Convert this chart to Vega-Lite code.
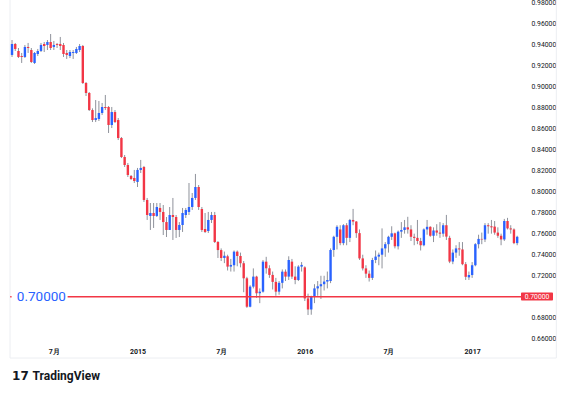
{
"$schema": "https://vega.github.io/schema/vega-lite/v6.json",
"width": 522, "height": 340,
"autosize": {"type": "none"},
"padding": {"left": 5, "top": 0, "right": 40, "bottom": 53},
"background": "#ffffff",
"config": {"view": {"stroke": null}, "font": "Roboto", "axis": {"labelOverlap": false, "labelFlush": false, "labelBound": false}},
"datasets": {
"candles": [
{"d":"2014-04-07","o":0.9297,"h":0.9439,"l":0.9278,"c":0.9401},
{"d":"2014-04-14","o":0.9401,"h":0.9411,"l":0.9335,"c":0.9354},
{"d":"2014-04-21","o":0.9335,"h":0.9363,"l":0.9268,"c":0.9278},
{"d":"2014-04-28","o":0.9287,"h":0.9316,"l":0.9221,"c":0.9278},
{"d":"2014-05-05","o":0.9278,"h":0.9392,"l":0.9268,"c":0.9373},
{"d":"2014-05-12","o":0.9373,"h":0.9411,"l":0.9316,"c":0.9363},
{"d":"2014-05-19","o":0.9344,"h":0.9363,"l":0.9221,"c":0.9230},
{"d":"2014-05-26","o":0.9221,"h":0.9325,"l":0.9211,"c":0.9316},
{"d":"2014-06-02","o":0.9306,"h":0.9354,"l":0.9287,"c":0.9335},
{"d":"2014-06-09","o":0.9335,"h":0.9411,"l":0.9325,"c":0.9392},
{"d":"2014-06-16","o":0.9401,"h":0.9420,"l":0.9325,"c":0.9382},
{"d":"2014-06-23","o":0.9392,"h":0.9439,"l":0.9344,"c":0.9420},
{"d":"2014-06-30","o":0.9420,"h":0.9496,"l":0.9344,"c":0.9363},
{"d":"2014-07-07","o":0.9373,"h":0.9430,"l":0.9344,"c":0.9392},
{"d":"2014-07-14","o":0.9401,"h":0.9411,"l":0.9363,"c":0.9392},
{"d":"2014-07-21","o":0.9401,"h":0.9468,"l":0.9344,"c":0.9382},
{"d":"2014-07-28","o":0.9392,"h":0.9411,"l":0.9278,"c":0.9306},
{"d":"2014-08-04","o":0.9316,"h":0.9344,"l":0.9259,"c":0.9297},
{"d":"2014-08-11","o":0.9287,"h":0.9344,"l":0.9268,"c":0.9325},
{"d":"2014-08-18","o":0.9316,"h":0.9344,"l":0.9259,"c":0.9325},
{"d":"2014-08-25","o":0.9316,"h":0.9373,"l":0.9306,"c":0.9354},
{"d":"2014-09-01","o":0.9344,"h":0.9401,"l":0.9325,"c":0.9382},
{"d":"2014-09-08","o":0.9382,"h":0.9392,"l":0.9021,"c":0.9031},
{"d":"2014-09-15","o":0.9031,"h":0.9040,"l":0.8907,"c":0.8936},
{"d":"2014-09-22","o":0.8936,"h":0.8945,"l":0.8765,"c":0.8774},
{"d":"2014-09-29","o":0.8774,"h":0.8790,"l":0.8660,"c":0.8679},
{"d":"2014-10-06","o":0.8679,"h":0.8869,"l":0.8660,"c":0.8698},
{"d":"2014-10-13","o":0.8689,"h":0.8860,"l":0.8670,"c":0.8746},
{"d":"2014-10-20","o":0.8746,"h":0.8841,"l":0.8727,"c":0.8803},
{"d":"2014-10-27","o":0.8803,"h":0.8917,"l":0.8774,"c":0.8793},
{"d":"2014-11-03","o":0.8803,"h":0.8812,"l":0.8556,"c":0.8632},
{"d":"2014-11-10","o":0.8632,"h":0.8803,"l":0.8603,"c":0.8755},
{"d":"2014-11-17","o":0.8755,"h":0.8774,"l":0.8651,"c":0.8660},
{"d":"2014-11-24","o":0.8679,"h":0.8698,"l":0.8489,"c":0.8508},
{"d":"2014-12-01","o":0.8508,"h":0.8518,"l":0.8318,"c":0.8328},
{"d":"2014-12-08","o":0.8328,"h":0.8347,"l":0.8233,"c":0.8252},
{"d":"2014-12-15","o":0.8252,"h":0.8271,"l":0.8138,"c":0.8157},
{"d":"2014-12-22","o":0.8148,"h":0.8157,"l":0.8110,"c":0.8119},
{"d":"2014-12-29","o":0.8129,"h":0.8205,"l":0.8081,"c":0.8100},
{"d":"2015-01-05","o":0.8091,"h":0.8224,"l":0.8043,"c":0.8205},
{"d":"2015-01-12","o":0.8205,"h":0.8300,"l":0.8176,"c":0.8224},
{"d":"2015-01-19","o":0.8233,"h":0.8243,"l":0.7901,"c":0.7920},
{"d":"2015-01-26","o":0.7920,"h":0.7939,"l":0.7730,"c":0.7777},
{"d":"2015-02-02","o":0.7768,"h":0.7891,"l":0.7635,"c":0.7796},
{"d":"2015-02-09","o":0.7796,"h":0.7891,"l":0.7654,"c":0.7768},
{"d":"2015-02-16","o":0.7768,"h":0.7891,"l":0.7758,"c":0.7853},
{"d":"2015-02-23","o":0.7844,"h":0.7891,"l":0.7730,"c":0.7806},
{"d":"2015-03-02","o":0.7806,"h":0.7872,"l":0.7587,"c":0.7710},
{"d":"2015-03-09","o":0.7710,"h":0.7758,"l":0.7568,"c":0.7635},
{"d":"2015-03-16","o":0.7635,"h":0.7853,"l":0.7635,"c":0.7777},
{"d":"2015-03-23","o":0.7777,"h":0.7939,"l":0.7540,"c":0.7758},
{"d":"2015-03-30","o":0.7758,"h":0.7777,"l":0.7559,"c":0.7635},
{"d":"2015-04-06","o":0.7635,"h":0.7710,"l":0.7568,"c":0.7682},
{"d":"2015-04-13","o":0.7682,"h":0.7844,"l":0.7616,"c":0.7796},
{"d":"2015-04-20","o":0.7777,"h":0.7844,"l":0.7749,"c":0.7825},
{"d":"2015-04-27","o":0.7806,"h":0.8081,"l":0.7777,"c":0.7853},
{"d":"2015-05-04","o":0.7853,"h":0.7986,"l":0.7825,"c":0.7939},
{"d":"2015-05-11","o":0.7939,"h":0.8167,"l":0.7920,"c":0.8043},
{"d":"2015-05-18","o":0.8043,"h":0.8062,"l":0.7825,"c":0.7853},
{"d":"2015-05-25","o":0.7834,"h":0.7853,"l":0.7616,"c":0.7635},
{"d":"2015-06-01","o":0.7644,"h":0.7796,"l":0.7606,"c":0.7616},
{"d":"2015-06-08","o":0.7625,"h":0.7806,"l":0.7606,"c":0.7730},
{"d":"2015-06-15","o":0.7730,"h":0.7806,"l":0.7701,"c":0.7777},
{"d":"2015-06-22","o":0.7777,"h":0.7806,"l":0.7511,"c":0.7521},
{"d":"2015-06-29","o":0.7521,"h":0.7530,"l":0.7369,"c":0.7444},
{"d":"2015-07-06","o":0.7444,"h":0.7460,"l":0.7340,"c":0.7369},
{"d":"2015-07-13","o":0.7369,"h":0.7430,"l":0.7320,"c":0.7390},
{"d":"2015-07-20","o":0.7385,"h":0.7400,"l":0.7250,"c":0.7287},
{"d":"2015-07-27","o":0.7287,"h":0.7360,"l":0.7240,"c":0.7303},
{"d":"2015-08-03","o":0.7300,"h":0.7440,"l":0.7240,"c":0.7429},
{"d":"2015-08-10","o":0.7429,"h":0.7440,"l":0.7290,"c":0.7388},
{"d":"2015-08-17","o":0.7388,"h":0.7420,"l":0.7280,"c":0.7319},
{"d":"2015-08-24","o":0.7319,"h":0.7340,"l":0.7044,"c":0.7176},
{"d":"2015-08-31","o":0.7176,"h":0.7190,"l":0.6895,"c":0.6906},
{"d":"2015-09-07","o":0.6906,"h":0.7110,"l":0.6900,"c":0.7097},
{"d":"2015-09-14","o":0.7097,"h":0.7270,"l":0.7080,"c":0.7192},
{"d":"2015-09-21","o":0.7192,"h":0.7200,"l":0.6990,"c":0.7034},
{"d":"2015-09-28","o":0.7034,"h":0.7080,"l":0.6940,"c":0.7049},
{"d":"2015-10-05","o":0.7049,"h":0.7350,"l":0.7040,"c":0.7334},
{"d":"2015-10-12","o":0.7334,"h":0.7380,"l":0.7220,"c":0.7271},
{"d":"2015-10-19","o":0.7271,"h":0.7300,"l":0.7180,"c":0.7208},
{"d":"2015-10-26","o":0.7208,"h":0.7240,"l":0.7070,"c":0.7142},
{"d":"2015-11-02","o":0.7142,"h":0.7180,"l":0.7010,"c":0.7049},
{"d":"2015-11-09","o":0.7049,"h":0.7150,"l":0.7020,"c":0.7133},
{"d":"2015-11-16","o":0.7133,"h":0.7260,"l":0.7080,"c":0.7239},
{"d":"2015-11-23","o":0.7239,"h":0.7260,"l":0.7150,"c":0.7192},
{"d":"2015-11-30","o":0.7192,"h":0.7385,"l":0.7160,"c":0.7350},
{"d":"2015-12-07","o":0.7334,"h":0.7360,"l":0.7170,"c":0.7192},
{"d":"2015-12-14","o":0.7192,"h":0.7290,"l":0.7120,"c":0.7160},
{"d":"2015-12-21","o":0.7160,"h":0.7300,"l":0.7150,"c":0.7287},
{"d":"2015-12-28","o":0.7287,"h":0.7330,"l":0.7240,"c":0.7303},
{"d":"2016-01-04","o":0.7280,"h":0.7290,"l":0.6960,"c":0.6985},
{"d":"2016-01-11","o":0.6985,"h":0.7030,"l":0.6827,"c":0.6880},
{"d":"2016-01-18","o":0.6880,"h":0.7010,"l":0.6830,"c":0.7000},
{"d":"2016-01-25","o":0.7000,"h":0.7120,"l":0.6940,"c":0.7080},
{"d":"2016-02-01","o":0.7080,"h":0.7150,"l":0.7010,"c":0.7100},
{"d":"2016-02-08","o":0.7100,"h":0.7200,"l":0.6980,"c":0.7120},
{"d":"2016-02-15","o":0.7120,"h":0.7200,"l":0.7060,"c":0.7145},
{"d":"2016-02-22","o":0.7145,"h":0.7240,"l":0.7080,"c":0.7160},
{"d":"2016-02-29","o":0.7150,"h":0.7460,"l":0.7130,"c":0.7445},
{"d":"2016-03-07","o":0.7445,"h":0.7580,"l":0.7380,"c":0.7570},
{"d":"2016-03-14","o":0.7570,"h":0.7680,"l":0.7450,"c":0.7665},
{"d":"2016-03-21","o":0.7640,"h":0.7680,"l":0.7490,"c":0.7510},
{"d":"2016-03-28","o":0.7510,"h":0.7690,"l":0.7490,"c":0.7680},
{"d":"2016-04-04","o":0.7680,"h":0.7700,"l":0.7490,"c":0.7560},
{"d":"2016-04-11","o":0.7560,"h":0.7740,"l":0.7520,"c":0.7730},
{"d":"2016-04-18","o":0.7730,"h":0.7835,"l":0.7680,"c":0.7715},
{"d":"2016-04-25","o":0.7715,"h":0.7720,"l":0.7560,"c":0.7605},
{"d":"2016-05-02","o":0.7605,"h":0.7640,"l":0.7350,"c":0.7365},
{"d":"2016-05-09","o":0.7365,"h":0.7400,"l":0.7250,"c":0.7270},
{"d":"2016-05-16","o":0.7270,"h":0.7300,"l":0.7180,"c":0.7220},
{"d":"2016-05-23","o":0.7220,"h":0.7250,"l":0.7145,"c":0.7180},
{"d":"2016-05-30","o":0.7180,"h":0.7370,"l":0.7160,"c":0.7350},
{"d":"2016-06-06","o":0.7350,"h":0.7440,"l":0.7320,"c":0.7382},
{"d":"2016-06-13","o":0.7382,"h":0.7420,"l":0.7300,"c":0.7400},
{"d":"2016-06-20","o":0.7400,"h":0.7650,"l":0.7270,"c":0.7460},
{"d":"2016-06-27","o":0.7460,"h":0.7520,"l":0.7380,"c":0.7500},
{"d":"2016-07-04","o":0.7500,"h":0.7580,"l":0.7420,"c":0.7570},
{"d":"2016-07-11","o":0.7570,"h":0.7670,"l":0.7540,"c":0.7603},
{"d":"2016-07-18","o":0.7603,"h":0.7610,"l":0.7460,"c":0.7480},
{"d":"2016-07-25","o":0.7480,"h":0.7630,"l":0.7450,"c":0.7619},
{"d":"2016-08-01","o":0.7619,"h":0.7710,"l":0.7560,"c":0.7635},
{"d":"2016-08-08","o":0.7635,"h":0.7730,"l":0.7600,"c":0.7660},
{"d":"2016-08-15","o":0.7660,"h":0.7760,"l":0.7600,"c":0.7640},
{"d":"2016-08-22","o":0.7640,"h":0.7680,"l":0.7530,"c":0.7570},
{"d":"2016-08-29","o":0.7570,"h":0.7600,"l":0.7490,"c":0.7560},
{"d":"2016-09-05","o":0.7560,"h":0.7730,"l":0.7500,"c":0.7530},
{"d":"2016-09-12","o":0.7530,"h":0.7560,"l":0.7440,"c":0.7490},
{"d":"2016-09-19","o":0.7490,"h":0.7650,"l":0.7480,"c":0.7640},
{"d":"2016-09-26","o":0.7640,"h":0.7730,"l":0.7590,"c":0.7665},
{"d":"2016-10-03","o":0.7665,"h":0.7670,"l":0.7570,"c":0.7580},
{"d":"2016-10-10","o":0.7580,"h":0.7660,"l":0.7520,"c":0.7630},
{"d":"2016-10-17","o":0.7630,"h":0.7690,"l":0.7580,"c":0.7610},
{"d":"2016-10-24","o":0.7610,"h":0.7710,"l":0.7560,"c":0.7600},
{"d":"2016-10-31","o":0.7600,"h":0.7700,"l":0.7570,"c":0.7680},
{"d":"2016-11-07","o":0.7680,"h":0.7778,"l":0.7540,"c":0.7572},
{"d":"2016-11-14","o":0.7560,"h":0.7580,"l":0.7320,"c":0.7335},
{"d":"2016-11-21","o":0.7335,"h":0.7450,"l":0.7310,"c":0.7420},
{"d":"2016-11-28","o":0.7420,"h":0.7490,"l":0.7370,"c":0.7460},
{"d":"2016-12-05","o":0.7460,"h":0.7520,"l":0.7390,"c":0.7450},
{"d":"2016-12-12","o":0.7450,"h":0.7520,"l":0.7300,"c":0.7310},
{"d":"2016-12-19","o":0.7310,"h":0.7330,"l":0.7160,"c":0.7190},
{"d":"2016-12-26","o":0.7185,"h":0.7240,"l":0.7160,"c":0.7207},
{"d":"2017-01-02","o":0.7207,"h":0.7330,"l":0.7180,"c":0.7300},
{"d":"2017-01-09","o":0.7300,"h":0.7510,"l":0.7290,"c":0.7500},
{"d":"2017-01-16","o":0.7500,"h":0.7590,"l":0.7460,"c":0.7550},
{"d":"2017-01-23","o":0.7550,"h":0.7610,"l":0.7500,"c":0.7545},
{"d":"2017-01-30","o":0.7545,"h":0.7700,"l":0.7520,"c":0.7680},
{"d":"2017-02-06","o":0.7680,"h":0.7700,"l":0.7600,"c":0.7670},
{"d":"2017-02-13","o":0.7670,"h":0.7730,"l":0.7600,"c":0.7660},
{"d":"2017-02-20","o":0.7667,"h":0.7720,"l":0.7590,"c":0.7610},
{"d":"2017-02-27","o":0.7610,"h":0.7660,"l":0.7560,"c":0.7580},
{"d":"2017-03-06","o":0.7580,"h":0.7600,"l":0.7490,"c":0.7545},
{"d":"2017-03-13","o":0.7545,"h":0.7740,"l":0.7530,"c":0.7720},
{"d":"2017-03-20","o":0.7720,"h":0.7750,"l":0.7640,"c":0.7650},
{"d":"2017-03-27","o":0.7650,"h":0.7680,"l":0.7600,"c":0.7640},
{"d":"2017-04-03","o":0.7640,"h":0.7650,"l":0.7500,"c":0.7510},
{"d":"2017-04-10","o":0.7510,"h":0.7580,"l":0.7490,"c":0.7570}
],
"level": [
{"d":"2014-04-03T00:00:00Z","d2":"2014-04-06T00:00:00Z","p":0.70},
{"d":"2014-08-06T00:00:00Z","d2":"2017-04-20T12:00:00Z","p":0.70}
],
"frame": [
{"d":"2014-04-02T14:00:00Z","d2":"2014-04-02T14:00:00Z","p":0.9819,"p2":0.6419},
{"d":"2014-04-02T14:00:00Z","d2":"2017-07-04T04:00:00Z","p":0.6419,"p2":0.6419},
{"d":"2017-07-04T04:00:00Z","d2":"2017-07-04T04:00:00Z","p":0.9819,"p2":0.6419}
]
},
"encoding": {
"x": {"type": "temporal",
"scale": {"type": "utc", "domain": [{"year":2014,"month":4,"date":2,"hours":14,"utc":true},{"year":2017,"month":4,"date":20,"hours":12,"utc":true}]},
"axis": {"title": null, "grid": false, "domain": false, "ticks": false, "labelPadding": 7,
"values": [{"year":2014,"month":7,"date":7,"utc":true},{"year":2015,"month":1,"date":5,"utc":true},{"year":2015,"month":7,"date":6,"utc":true},{"year":2016,"month":1,"date":4,"utc":true},{"year":2016,"month":7,"date":4,"utc":true},{"year":2017,"month":1,"date":2,"utc":true}],
"labelExpr": "utcmonth(datum.value) == 0 ? utcFormat(datum.value, '%Y') : (utcmonth(datum.value) + 1) + '月'",
"labelFontSize": 7, "labelFontWeight": "bold", "labelColor": "#131722", "labelOverlap": false, "labelFlush": false}},
"y": {"type": "quantitative",
"scale": {"domain": [0.659, 0.9819], "nice": false, "zero": false},
"axis": {"orient": "right", "title": null, "grid": false, "domain": false, "ticks": false, "labelPadding": 4,
"values": [0.66,0.68,0.72,0.74,0.76,0.78,0.8,0.82,0.84,0.86,0.88,0.9,0.92,0.94,0.96,0.98],
"format": ".5f", "labelFontSize": 6.8, "labelColor": "#131722", "labelBaseline": "middle", "labelOverlap": false, "labelFlush": false, "labelBound": false}}
},
"layer": [
{
"data": {"name": "frame"},
"mark": {"type": "rule", "color": "#eceef2", "strokeWidth": 1},
"encoding": {"x": {"field": "d"}, "x2": {"field": "d2"}, "y": {"field": "p"}, "y2": {"field": "p2"}}
},
{
"data": {"name": "candles"},
"mark": {"type": "rule", "color": "#8f929b", "strokeWidth": 1},
"encoding": {"x": {"field": "d"}, "y": {"field": "l"}, "y2": {"field": "h"}}
},
{
"data": {"name": "candles"},
"mark": {"type": "bar", "width": 2.4},
"encoding": {
"x": {"field": "d"}, "y": {"field": "o"}, "y2": {"field": "c"},
"color": {"condition": {"test": "datum.c >= datum.o", "value": "#2962FF"}, "value": "#F23645"}
}
},
{
"data": {"name": "level"},
"mark": {"type": "rule", "color": "#F23645", "strokeWidth": 1.5},
"encoding": {"x": {"field": "d"}, "x2": {"field": "d2"}, "y": {"field": "p"}}
},
{
"data": {"values": [{"d":"2014-04-17T12:00:00Z","p":0.70,"t":"0.70000"}]},
"mark": {"type": "text", "color": "#2962FF", "fontSize": 13.5, "align": "left", "baseline": "middle"},
"encoding": {"x": {"field": "d"}, "y": {"field": "p"}, "text": {"field": "t"}}
},
{
"data": {"values": [{"d":"2017-04-20T12:00:00Z","p":0.70}]},
"mark": {"type": "rect", "color": "#F23645", "xOffset": -1, "x2Offset": 31, "yOffset": -4.3, "y2Offset": 3.7, "cornerRadius": 1},
"encoding": {"x": {"field": "d"}, "x2": {"field": "d"}, "y": {"field": "p"}, "y2": {"field": "p"}}
},
{
"data": {"values": [{"d":"2017-04-20T12:00:00Z","p":0.70,"t":"0.70000"}]},
"mark": {"type": "text", "color": "#ffffff", "fontSize": 6.8, "align": "center", "baseline": "middle", "dx": 15},
"encoding": {"x": {"field": "d"}, "y": {"field": "p"}, "text": {"field": "t"}}
},
{
"data": {"values": [{"d":"2014-04-07T00:00:00Z","p":0.6210,"t":"17"}]},
"mark": {"type": "text", "color": "#131722", "font": "DejaVu Sans", "fontWeight": "bold", "fontSize": 12, "align": "left", "baseline": "alphabetic"},
"encoding": {"x": {"field": "d"}, "y": {"field": "p"}, "text": {"field": "t"}}
},
{
"data": {"values": [{"d":"2014-05-21T12:00:00Z","p":0.6210,"t":"TradingView"}]},
"mark": {"type": "text", "color": "#131722", "fontWeight": "bold", "fontSize": 12, "align": "left", "baseline": "alphabetic"},
"encoding": {"x": {"field": "d"}, "y": {"field": "p"}, "text": {"field": "t"}}
}
]
}
